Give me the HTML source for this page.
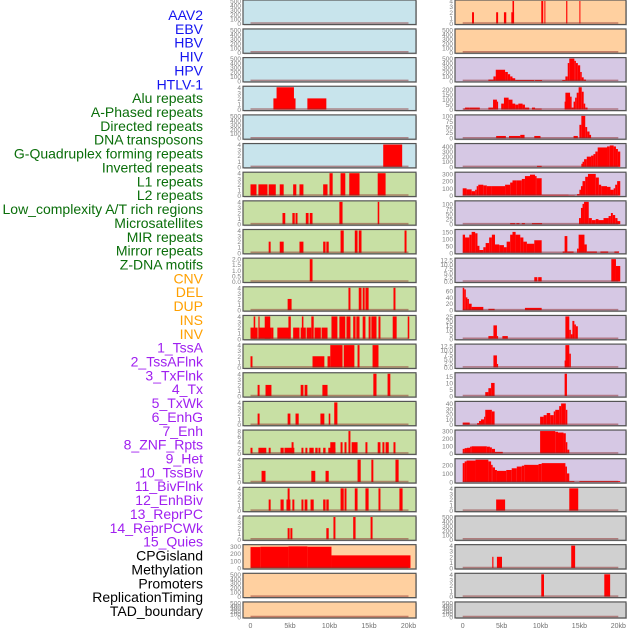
<!DOCTYPE html>
<html><head><meta charset="utf-8"><style>
body{margin:0;background:#fff}
svg{display:block;font-family:"Liberation Sans",sans-serif}
</style></head><body>
<svg id="c" width="630" height="630" viewBox="0 0 630 630"></svg>
<script>
const trackNames=["AAV2","EBV","HBV","HIV","HPV","HTLV-1","Alu repeats","A-Phased repeats","Directed repeats","DNA transposons","G-Quadruplex forming repeats","Inverted repeats","L1 repeats","L2 repeats","Low_complexity A/T rich regions","Microsatellites","MIR repeats","Mirror repeats","Z-DNA motifs","CNV","DEL","DUP","INS","INV","1_TssA","2_TssAFlnk","3_TxFlnk","4_Tx","5_TxWk","6_EnhG","7_Enh","8_ZNF_Rpts","9_Het","10_TssBiv","11_BivFlnk","12_EnhBiv","13_ReprPC","14_ReprPCWk","15_Quies","CPGisland","Methylation","Promoters","ReplicationTiming","TAD_boundary"];
const trackGroup=[0,0,0,0,0,0,1,1,1,1,1,1,1,1,1,1,1,1,1,2,2,2,2,2,3,3,3,3,3,3,3,3,3,3,3,3,3,3,3,4,4,4,4,4];
const trackMax=[500,500,500,4,500,4,4,4,4,2,4,4,4,4,4,8,4,4,4,310,500,500,4,500,500,225,100,437,310,110,160,13,70,25,13,17,42,300,260,4,500,4,4,500];
const E5=["0","100","200","300","400","500"];
const tickLabels=[E5,E5,E5,["0","1","2","3","4"],E5,["0","1","2","3","4"],["0","1","2","3","4"],["0","1","2","3","4"],["0","1","2","3","4"],["0.0","0.5","1.0","1.5","2.0"],["0","1","2","3","4"],["0","1","2","3","4"],["0","1","2","3","4"],["0","1","2","3","4"],["0","1","2","3","4"],["0","2","4","6","8"],["0","1","2","3","4"],["0","1","2","3","4"],["0","1","2","3","4"],["0","100","200","300"],E5,E5,["0","1","2","3","4"],E5,E5,["0","50","100","150","200"],["0","25","50","75","100"],["0","100","200","300","400"],["0","100","200","300"],["0","25","50","75","100"],["0","50","100","150"],["0.0","2.5","5.0","7.5","10.0","12.5"],["0","20","40","60"],["0","5","10","15","20","25"],["0.0","2.5","5.0","7.5","10.0","12.5"],["0","5","10","15"],["0","10","20","30","40"],["0","100","200","300"],["0","100","200"],["0","1","2","3","4"],E5,["0","1","2","3","4"],["0","1","2","3","4"],E5];
const segments=[
[],[],[],
[[2.9,5.7,2],[3.3,5.5,4],[7.2,9.6,2]],
[],
[[16.8,19.2,4]],
[[0,0.76,2],[1.0,2.15,2],[2.3,3.2,2],[3.7,4.2,2],[5.4,5.8,2],[6.2,6.7,2],[9.2,9.75,2],[10.0,10.4,4],[11.4,12.0,4],[12.5,13.8,4],[16.1,17.1,4]],
[[4.05,4.4,2],[5.3,5.6,2],[5.7,5.95,2],[7.0,7.35,2],[7.5,7.85,2],[11.25,11.65,4],[16.1,16.3,4]],
[[2.3,2.55,2],[3.7,4.2,2],[6.2,6.7,2],[9.2,9.5,2],[9.6,9.9,2],[11.4,11.8,4],[13.2,13.55,4],[13.7,14.05,4],[19.5,19.75,4]],
[[7.5,7.85,2]],
[[4.7,5.2,2],[12.4,12.65,4],[13.7,14.05,4],[14.2,14.45,4],[14.55,14.95,4],[18.1,18.35,4]],
[[0,0.9,2],[0.4,0.6,4],[1.0,2.65,2],[1.0,1.15,4],[1.8,2.5,4],[2.65,2.9,2],[3.4,4.95,2],[4.8,5.1,4],[5.4,6.2,2],[6.35,7.0,2],[6.5,6.7,4],[7.1,7.7,2],[7.7,8.0,4],[8.1,8.9,2],[9.0,9.75,2],[10.25,11.0,4],[11.25,12.0,4],[12.15,12.65,4],[13.0,13.3,4],[13.4,13.8,4],[14.2,14.55,4],[14.95,15.2,4],[15.3,15.95,4],[16.2,16.45,4],[18.0,18.5,4],[19.9,20.1,4]],
[[0,0.25,2],[7.85,9.35,2],[9.75,10.1,2],[10.1,11.65,4],[11.8,13.15,4],[13.55,13.8,4],[15.45,16.2,4]],
[[0.9,1.15,2],[1.9,2.65,2],[6.35,6.7,2],[6.85,7.2,2],[9.1,9.75,2],[15.55,15.95,4],[17.35,17.7,4]],
[[0.9,1.15,2],[4.7,5.05,2],[5.7,6.1,2],[8.85,9.35,2],[9.9,10.1,2],[10.6,11.0,4]],
[[0,0.25,2],[1.0,2.0,2],[2.3,2.55,2],[3.8,4.2,2],[4.3,5.55,2],[5.2,5.45,4],[6.45,6.7,2],[6.95,7.2,2],[7.45,8.0,2],[8.2,8.5,2],[8.6,8.85,2],[9.2,9.5,2],[9.85,10.75,2],[10.1,10.75,4],[11.4,11.65,4],[11.9,12.15,4],[12.4,12.65,8],[12.8,13.55,4],[14.55,14.8,4],[16.1,16.45,4],[16.7,16.95,4],[17.1,17.5,4],[18.1,18.35,4]],
[[1.4,1.9,2],[7.7,8.2,2],[9.5,9.9,2],[13.55,13.95,4],[15.3,15.55,4],[18.35,18.75,4]],
[[2.3,2.55,2],[3.8,4.2,2],[4.55,5.05,2],[4.7,4.95,4],[5.3,5.55,2],[6.45,6.7,2],[6.85,7.2,2],[7.6,8.0,2],[9.2,9.5,2],[9.6,9.9,2],[11.4,11.8,4],[11.9,12.15,4],[13.2,13.55,4],[14.55,14.95,4],[16.2,16.45,4],[18.85,19.25,4]],
[[4.7,4.95,2],[5.05,5.3,2],[9.6,9.9,2],[10.5,10.75,4],[13.0,13.3,4],[15.2,15.45,4]],
[[0,1.25,290],[1.25,4.8,295],[4.8,7.2,300],[7.2,10.25,295],[10.25,20.25,175]],
[],[],
[[1.2,1.45,2],[4.3,4.55,2],[5.3,5.6,2],[6.25,6.6,2],[6.4,6.6,4],[10.1,10.35,4],[10.5,10.6,4],[13.3,13.45,4],[15.0,15.1,4]],
[],
[[3.3,3.95,30],[3.95,4.25,100],[4.25,5.45,250],[5.45,5.8,200],[5.8,6.1,150],[6.1,6.4,100],[6.4,6.75,60],[6.75,9.2,20],[9.3,10.2,20],[12.8,13.2,20],[13.2,13.5,100],[13.5,13.7,400],[13.7,14.35,520],[14.35,14.55,450],[14.55,14.8,400],[14.8,15.1,350],[15.1,15.3,200],[15.3,15.55,80],[15.55,15.85,30]],
[[0.1,0.3,10],[0.3,0.85,20],[0.85,2.2,20],[3.3,3.9,20],[3.9,4.4,100],[4.4,4.55,80],[4.95,5.3,60],[5.3,5.9,120],[5.9,6.4,100],[6.4,6.75,60],[6.75,7.15,50],[7.15,7.7,60],[7.7,8.0,50],[8.0,8.55,20],[8.9,9.3,20],[9.3,10.15,10],[13.1,13.2,80],[13.2,13.8,170],[13.8,14.0,130],[14.0,14.25,20],[14.25,14.45,80],[14.45,14.65,120],[14.65,14.9,170],[14.9,15.3,230],[15.3,15.55,180],[15.55,15.75,60],[15.75,16.05,20]],
[[4.3,5.55,10],[5.95,7.4,10],[7.4,7.95,15],[9.2,10.0,10],[14.25,14.8,10],[15.0,15.25,60],[15.25,15.75,100],[15.75,16.0,50],[16.0,16.3,30],[16.3,16.5,15]],
[[9.55,10.15,20],[15.25,15.4,60],[15.4,15.6,100],[15.6,15.95,150],[15.95,16.5,200],[16.5,16.8,220],[16.8,17.05,250],[17.05,17.35,300],[17.35,18.55,380],[18.55,18.9,400],[18.9,19.4,420],[19.4,19.7,400],[19.7,19.95,350],[19.95,20.25,300]],
[[0,0.5,100],[0.5,1.15,85],[1.15,1.6,60],[1.6,1.8,80],[1.8,2.0,130],[2.0,2.65,150],[2.65,3.1,140],[3.1,3.75,130],[3.75,5.45,130],[5.45,6.1,150],[6.1,6.4,180],[6.4,6.95,210],[6.95,7.6,210],[7.6,8.0,230],[8.0,8.65,270],[8.65,9.3,290],[9.3,9.5,270],[9.5,10.15,240],[10.15,13.6,10],[13.6,14.4,5],[14.7,15.0,20],[15.0,15.2,80],[15.2,15.4,130],[15.4,15.75,200],[15.75,16.1,260],[16.1,17.1,300],[17.1,17.5,250],[17.5,17.8,150],[17.8,18.55,130],[18.55,19.0,120],[19.0,19.4,80],[19.4,19.6,100],[19.6,19.85,150],[19.85,20.25,200]],
[[6.1,6.75,5],[6.9,7.3,5],[7.6,8.0,5],[8.9,10.2,5],[14.95,15.2,30],[15.2,15.4,80],[15.4,15.6,100],[15.6,16.2,110],[16.2,16.6,30],[16.6,17.1,20],[17.1,17.45,25],[17.45,18.1,20],[18.1,18.75,30],[18.75,19.05,40],[19.05,19.3,55],[19.3,19.6,45],[19.6,19.9,30],[19.9,20.25,15]],
[[0,0.3,130],[0.3,0.85,110],[0.85,1.15,130],[1.15,1.6,150],[1.6,1.9,140],[1.9,2.15,50],[2.15,2.65,20],[2.65,2.95,40],[2.95,3.4,70],[3.4,3.75,110],[3.75,4.15,130],[4.15,4.7,60],[4.7,5.3,55],[5.3,5.65,40],[5.65,6.1,80],[6.1,6.4,130],[6.4,6.8,150],[6.8,7.4,130],[7.4,7.8,110],[7.8,8.25,80],[8.25,9.2,65],[9.2,10.15,90],[12.85,13.1,10],[13.1,13.45,120],[13.45,14.25,10],[14.7,14.9,30],[14.9,15.65,130],[15.65,15.95,60],[15.95,17.25,10],[17.7,18.7,10],[19.5,20.1,10]],
[[9.2,9.6,2.5],[9.7,10.15,2.5],[19.1,19.7,13],[19.7,20.25,9]],
[[0,0.2,70],[0.2,0.4,65],[0.4,0.6,40],[0.6,0.8,35],[0.8,1.15,20],[1.15,2.65,10],[3.3,4.1,4],[8.0,10.15,7]],
[[3.3,3.95,3],[3.95,4.4,15],[4.4,4.55,3],[5.1,5.8,3],[13.2,13.7,25],[13.7,13.9,10],[13.9,14.1,5],[14.1,14.35,20],[14.35,14.55,16],[14.55,14.8,14]],
[[3.95,4.4,7],[4.4,4.55,2],[13.1,13.2,4],[13.2,13.7,13],[13.7,13.9,8]],
[[2.9,3.3,3],[3.3,3.65,6],[3.65,4.1,10],[13.1,13.4,17]],
[[0,0.9,4],[1.85,2.1,3],[2.1,2.35,7],[2.35,2.75,10],[2.75,2.9,15],[2.9,3.75,28],[3.75,4.1,25],[9.95,10.4,15],[10.4,10.8,18],[10.8,11.25,22],[11.25,11.7,18],[11.7,11.9,25],[11.9,12.4,28],[12.4,12.65,35],[12.65,13.25,40],[13.25,13.45,28]],
[[0,0.25,60],[0.25,0.55,70],[0.55,0.95,75],[0.95,1.15,90],[1.15,3.1,95],[3.1,3.5,90],[3.5,3.75,80],[3.75,4.15,60],[4.15,5.15,20],[9.95,11.9,300],[11.9,12.25,290],[12.25,12.95,280],[12.95,13.25,270],[13.25,13.45,150],[13.45,13.7,50]],
[[0,0.25,220],[0.25,0.5,240],[0.5,1.65,250],[1.65,3.3,260],[3.3,3.65,240],[3.65,3.85,200],[3.85,4.15,170],[4.15,4.4,140],[4.4,5.6,130],[5.6,6.3,140],[6.3,6.95,160],[6.95,7.6,180],[7.6,7.9,190],[7.9,9.75,200],[9.75,10.15,210],[10.15,13.2,220],[13.2,13.4,180],[13.4,13.7,100],[13.7,14.35,10],[15.0,20.25,10]],
[[4.3,5.45,2],[13.7,14.85,4]],
[],
[[3.8,3.95,2],[4.4,5.05,2],[13.95,14.45,4]],
[[10.1,10.45,4],[18.2,18.95,4]],
[]
];
const xTickLabels=["0","5kb","10kb","15kb","20kb"];
const xTickValues=[0,5,10,15,20];

const NS="http://www.w3.org/2000/svg";
const svg=document.getElementById('c');
function mk(tag,attrs,parent){const e=document.createElementNS(NS,tag);for(const k in attrs)e.setAttribute(k,attrs[k]);(parent||svg).appendChild(e);return e;}
const labelColors=["#1414f0","#0a6e0a","#ffa000","#a020f0","#000000"];
const bgColors=["#c8e4ec","#c8e0a4","#ffd0a0","#d6c8e4","#d0d0d0"];
const cols=[{x0:243,x1:416,z:250.5,s:7.9},{x0:455,x1:626,z:462.7,s:7.78}];
function rowTop(i){return i===0?0:28.65*i+0.3;}
function rowH(i){return i===0?24.5:(i===21?16:24.3);}
// labels
trackNames.forEach((n,i)=>{
  const t=mk('text',{x:203,y:15+i*13.86+5,'text-anchor':'end','font-size':'14',fill:labelColors[trackGroup[i]]});
  t.textContent=n;
  
  
});
trackNames.forEach((n,i)=>{
  const c=cols[i<22?0:1], r=i%22;
  const top=rowTop(r), h=rowH(r);
  const g=mk('g',{});
  
  
  mk('rect',{x:c.x0+1,y:top+1,width:c.x1-c.x0,height:h,fill:'#999','opacity':0.5},g);
  mk('rect',{x:c.x0,y:top,width:c.x1-c.x0,height:h,fill:bgColors[trackGroup[i]],stroke:'#555','stroke-width':1.2},g);
  const yb=top+h-1, yt=top+1;
  const ys=v=>yb-(Math.min(v,trackMax[i])/trackMax[i])*(yb-yt);
  const xs=k=>c.z+k*c.s;
  segments[i].forEach(s=>{
    const b=mk('rect',{x:xs(s[0]),y:ys(s[2]),width:Math.max(1,xs(s[1])-xs(s[0])),height:yb-ys(s[2]),fill:'#ff0000'},g);
    
    
  });
  mk('line',{x1:xs(0),x2:xs(20),y1:yb-0.5,y2:yb-0.5,stroke:'rgba(140,40,40,0.5)','stroke-width':1.5},g);
  const tl=tickLabels[i], tmax=parseFloat(tl[tl.length-1]);
  tl.forEach(l=>{
    const v=parseFloat(l);
    const t=mk('text',{x:c.x0-2,y:ys(v)+2.5,'text-anchor':'end','font-size':'6.5',fill:'#808080'},g);
    t.textContent=l;
    
    
  });
});
cols.forEach(c=>{
  xTickValues.forEach((v,j)=>{
    const t=mk('text',{x:c.z+v*c.s,y:628,'text-anchor':'middle','font-size':'7',fill:'#707070'});
    t.textContent=xTickLabels[j];
    
    
  });
});
</script>
</body></html>
